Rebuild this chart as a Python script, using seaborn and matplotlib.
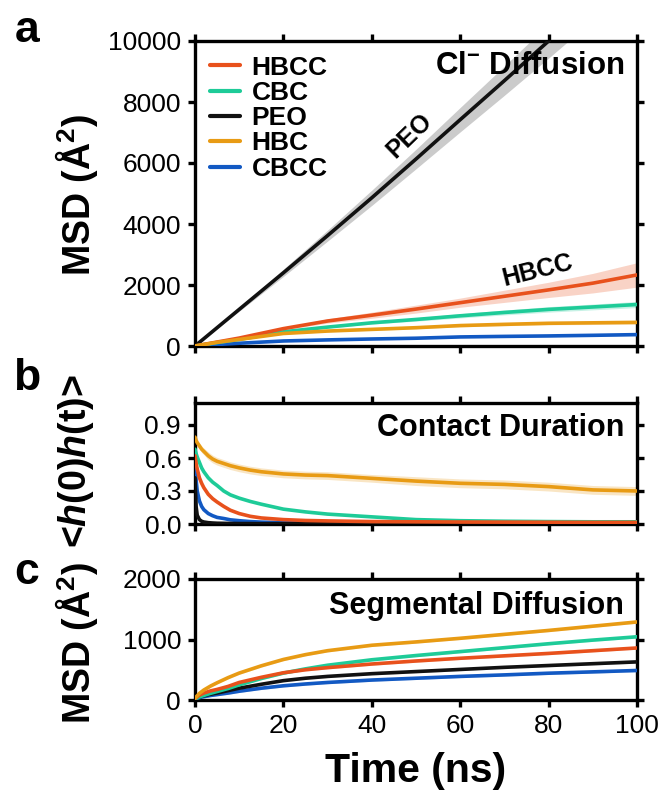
import numpy as np
import pandas as pd
import matplotlib
matplotlib.use("Agg")
import matplotlib.pyplot as plt
from matplotlib.lines import Line2D
import seaborn as sns

# ---------------- data ----------------
series = ["HBCC", "CBC", "PEO", "HBC", "CBCC"]
colors = {"HBCC": "#E8511C", "CBC": "#1ECB98", "PEO": "#111111",
          "HBC": "#E89B14", "CBCC": "#1259C3"}
band_colors = {"HBCC": "#E8511C", "CBC": "#1ECB98", "PEO": "#8C8C8C",
               "HBC": "#E89B14", "CBCC": "#1259C3"}

# (a) Cl- diffusion MSD (A^2)
t_a = [0, 5, 10, 20, 30, 40, 50, 60, 70, 80, 90, 100]
msd_a = {
    "HBCC": [0, 130, 260, 570, 820, 1010, 1210, 1420, 1630, 1840, 2060, 2330],
    "CBC":  [0, 110, 215, 465, 620, 760, 870, 990, 1100, 1200, 1280, 1360],
    "PEO":  [0, 600, 1200, 2400, 3620, 4860, 6130, 7420, 8700, 10000, 11300, 12600],
    "HBC":  [0, 120, 215, 410, 490, 545, 600, 670, 710, 745, 760, 775],
    "CBCC": [0, 50, 90, 165, 200, 230, 255, 297, 315, 330, 350, 373],
}
err_a = {
    "HBCC": [0, 10, 20, 40, 70, 100, 130, 150, 200, 250, 320, 400],
    "CBC":  [0, 8, 12, 20, 30, 40, 55, 70, 80, 90, 95, 100],
    "PEO":  [0, 30, 60, 120, 180, 250, 320, 400, 480, 560, 620, 680],
    "HBC":  [0, 8, 12, 20, 25, 30, 35, 40, 45, 50, 55, 60],
    "CBCC": [0, 5, 8, 10, 12, 14, 16, 18, 20, 22, 24, 26],
}

# (b) contact duration autocorrelation
t_b = [0, 0.25, 0.5, 1, 1.5, 2, 3, 4, 5, 6.5, 8, 10, 12.5, 15, 20, 25, 30,
       40, 50, 60, 70, 80, 90, 100]
acf_b = {
    "HBCC": [0.62, 0.55, 0.50, 0.42, 0.37, 0.33, 0.27, 0.23, 0.20, 0.16, 0.125,
             0.095, 0.07, 0.055, 0.04, 0.032, 0.028, 0.022, 0.02, 0.018, 0.017,
             0.016, 0.015, 0.015],
    "CBC":  [0.68, 0.64, 0.61, 0.56, 0.51, 0.475, 0.42, 0.38, 0.35, 0.30, 0.265,
             0.235, 0.205, 0.18, 0.135, 0.11, 0.09, 0.065, 0.04, 0.03, 0.025,
             0.022, 0.02, 0.02],
    "PEO":  [0.42, 0.16, 0.08, 0.04, 0.025, 0.018, 0.012, 0.009, 0.007, 0.006,
             0.005, 0.004, 0.004, 0.003, 0.003, 0.003, 0.003, 0.003, 0.003,
             0.003, 0.003, 0.003, 0.003, 0.003],
    "HBC":  [0.79, 0.76, 0.74, 0.71, 0.68, 0.66, 0.62, 0.59, 0.57, 0.55, 0.53,
             0.51, 0.49, 0.475, 0.455, 0.445, 0.44, 0.415, 0.39, 0.37, 0.36,
             0.34, 0.31, 0.30],
    "CBCC": [0.58, 0.40, 0.30, 0.21, 0.16, 0.13, 0.095, 0.075, 0.06, 0.05,
             0.038, 0.03, 0.022, 0.017, 0.012, 0.01, 0.009, 0.008, 0.007,
             0.006, 0.006, 0.005, 0.005, 0.005],
}
err_b_hbc = [0.01, 0.015, 0.02, 0.025, 0.03, 0.03, 0.035, 0.035, 0.035, 0.035,
             0.035, 0.035, 0.035, 0.035, 0.035, 0.035, 0.035, 0.035, 0.04,
             0.04, 0.04, 0.04, 0.04, 0.04]

# (c) segmental diffusion MSD (A^2)
t_c = [0, 1, 2, 3.5, 5, 7.5, 10, 15, 20, 25, 30, 40, 50, 60, 70, 80, 90, 100]
msd_c = {
    "HBCC": [25, 80, 115, 150, 175, 225, 290, 375, 450, 500, 535, 595, 645, 690,
             730, 770, 815, 860],
    "CBC":  [15, 50, 75, 110, 140, 190, 250, 355, 445, 515, 575, 665, 735, 800,
             865, 930, 990, 1045],
    "PEO":  [15, 50, 70, 95, 115, 155, 195, 260, 320, 360, 390, 435, 470, 505,
             540, 570, 600, 630],
    "HBC":  [30, 110, 165, 230, 285, 370, 445, 565, 670, 750, 815, 905, 960,
             1020, 1085, 1150, 1220, 1290],
    "CBCC": [10, 40, 55, 75, 90, 115, 145, 195, 235, 265, 290, 330, 360, 390,
             415, 443, 465, 488],
}
err_c = 20

x_ticks = [0, 20, 40, 60, 80, 100]

# ---------------- style ----------------
sns.set_theme(style="ticks")
plt.rcParams["font.family"] = ["Liberation Sans", "DejaVu Sans"]
plt.rcParams["mathtext.fontset"] = "custom"
plt.rcParams["mathtext.rm"] = "Liberation Sans"
plt.rcParams["mathtext.bf"] = "Liberation Sans:bold"
plt.rcParams["mathtext.it"] = "Liberation Sans:italic"
plt.rcParams["mathtext.bfit"] = "Liberation Sans:italic:bold"
for k in ["text.color", "axes.labelcolor", "xtick.color", "ytick.color",
          "axes.edgecolor"]:
    plt.rcParams[k] = "black"

W, H = 663, 796
fig = plt.figure(figsize=(W / 100, H / 100), dpi=100)


def px_axes(left, top, right, bottom):
    return fig.add_axes([left / W, 1 - bottom / H, (right - left) / W, (bottom - top) / H])


ax_a = px_axes(195, 41, 637, 346)
ax_b = px_axes(195, 403, 637, 524)
ax_c = px_axes(195, 579, 637, 700)

draw_order = ["CBCC", "PEO", "CBC", "HBCC", "HBC"]


def long_df(t, d):
    rows = []
    for s in series:
        for ti, vi in zip(t, d[s]):
            rows.append((s, ti, vi))
    return pd.DataFrame(rows, columns=["series", "t", "v"])


def style_axes(ax, ylim, yticks, fmt, show_x):
    ax.set_xlim(0, 100)
    ax.set_ylim(*ylim)
    ax.set_xticks(x_ticks)
    ax.set_yticks(yticks)
    ax.set_yticklabels([fmt(v) for v in yticks])
    for sp in ax.spines.values():
        sp.set_visible(True)
        sp.set_linewidth(2.4)
        sp.set_color("black")
    ax.tick_params(direction="out", length=5, width=2.4, labelsize=19,
                   top=True, right=True, labeltop=False, labelright=False,
                   labelbottom=show_x, pad=5, colors="black")
    ax.set_xlabel("")
    ax.set_ylabel("")
    ax.grid(False)


# ---- panel a ----
df_a = long_df(t_a, msd_a)
for s in draw_order:
    v = np.array(msd_a[s]); e = np.array(err_a[s])
    ax_a.fill_between(t_a, v - e, v + e, color=band_colors[s],
                      alpha=0.45 if s == "PEO" else 0.25, lw=0, zorder=1)
for s in draw_order:
    sns.lineplot(data=df_a[df_a.series == s], x="t", y="v", color=colors[s],
                 lw=2.6, ax=ax_a, legend=False, zorder=3)
style_axes(ax_a, (0, 10000), [0, 2000, 4000, 6000, 8000, 10000],
           lambda v: f"{v:d}", False)
ax_a.text(0.971, 0.968, r"Cl$^{\mathbf{-}}$ Diffusion", transform=ax_a.transAxes,
          ha="right", va="top", fontsize=22.5, fontweight="bold")
ax_a.text(48.5, 6900, "PEO", rotation=44, ha="center", va="center",
          fontsize=18, fontweight="bold")
ax_a.text(77.5, 2480, "HBCC", rotation=14, ha="center", va="center",
          fontsize=18, fontweight="bold")
handles = [Line2D([0], [0], color=colors[s], lw=3) for s in series]
leg = ax_a.legend(handles, series, loc="upper left", frameon=False,
                  prop={"weight": "bold", "size": 19}, handlelength=1.15,
                  handletextpad=0.45, labelspacing=0.05, borderaxespad=0.25,
                  borderpad=0.3)

# ---- panel b ----
df_b = long_df(t_b, acf_b)
v = np.array(acf_b["HBC"]); e = np.array(err_b_hbc)
ax_b.fill_between(t_b, v - e, v + e, color=band_colors["HBC"], alpha=0.25, lw=0, zorder=1)
for s in draw_order:
    sns.lineplot(data=df_b[df_b.series == s], x="t", y="v", color=colors[s],
                 lw=2.6, ax=ax_b, legend=False, zorder=3)
style_axes(ax_b, (0, 1.1), [0.0, 0.3, 0.6, 0.9], lambda v: f"{v:.1f}", False)
ax_b.text(0.971, 0.915, "Contact Duration", transform=ax_b.transAxes,
          ha="right", va="top", fontsize=22, fontweight="bold")

# ---- panel c ----
df_c = long_df(t_c, msd_c)
for s in draw_order:
    v = np.array(msd_c[s])
    ax_c.fill_between(t_c, v - err_c, v + err_c, color=band_colors[s],
                      alpha=0.2, lw=0, zorder=1)
for s in draw_order:
    sns.lineplot(data=df_c[df_c.series == s], x="t", y="v", color=colors[s],
                 lw=2.6, ax=ax_c, legend=False, zorder=3)
style_axes(ax_c, (0, 2000), [0, 1000, 2000], lambda v: f"{v:d}", True)
ax_c.set_xticklabels([str(v) for v in x_ticks])
ax_c.text(0.971, 0.9, "Segmental Diffusion", transform=ax_c.transAxes,
          ha="right", va="top", fontsize=22, fontweight="bold")
ax_c.set_xlabel("Time (ns)", fontsize=29.5, fontweight="bold", labelpad=10)

# y labels
lab_kw = dict(fontsize=27, fontweight="bold", rotation=90, ha="center", va="center")
fig.text(76 / W, 1 - 195 / H, r"MSD (Å$^{\mathbf{2}}$)", **lab_kw)
fig.text(76 / W, 1 - 461 / H, r"<$\mathbfit{h}$(0)$\mathbfit{h}$(t)>", **lab_kw)
fig.text(76 / W, 1 - 643 / H, r"MSD (Å$^{\mathbf{2}}$)", **lab_kw)

# panel letters
for letter, y in [("a", 31), ("b", 378), ("c", 573)]:
    fig.text(27 / W, 1 - y / H, letter, fontsize=32, fontweight="bold",
             ha="center", va="center")

fig.savefig("out.png", dpi=100)
